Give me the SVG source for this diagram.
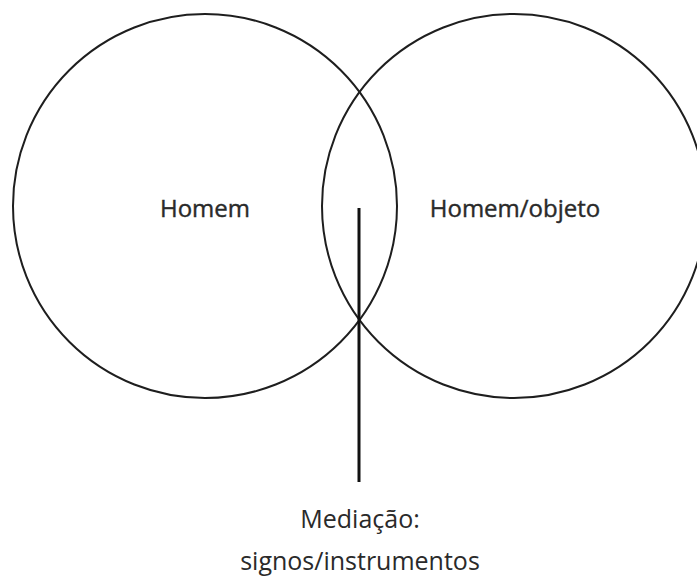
<svg xmlns="http://www.w3.org/2000/svg" width="697" height="576" viewBox="0 0 697 576">
<style>
.c{fill:none;stroke:#1e1e1e;stroke-width:2}
.t{font-family:"Open Sans","Noto Sans",sans-serif;font-size:24px;fill:#2a2a2a;text-anchor:middle}
.h{stroke:#2a2a2a;stroke-width:0.4}
.b{font-size:25px}
</style>
<rect width="697" height="576" fill="#fff"/>
<g id="homem"><circle class="c" cx="205" cy="206" r="192"/><text class="t h" x="205" y="217">Homem</text></g>
<g id="homem-objeto"><circle class="c" cx="514" cy="206" r="192"/><text class="t h" x="515" y="217">Homem/objeto</text></g>
<g id="connectors"><line x1="359" y1="208" x2="359" y2="482" stroke="#111" stroke-width="3"/></g>
<g id="mediacao"><text class="t b" x="360" y="528">Mediação:</text><text class="t b" x="360" y="570">signos/instrumentos</text></g>
</svg>
